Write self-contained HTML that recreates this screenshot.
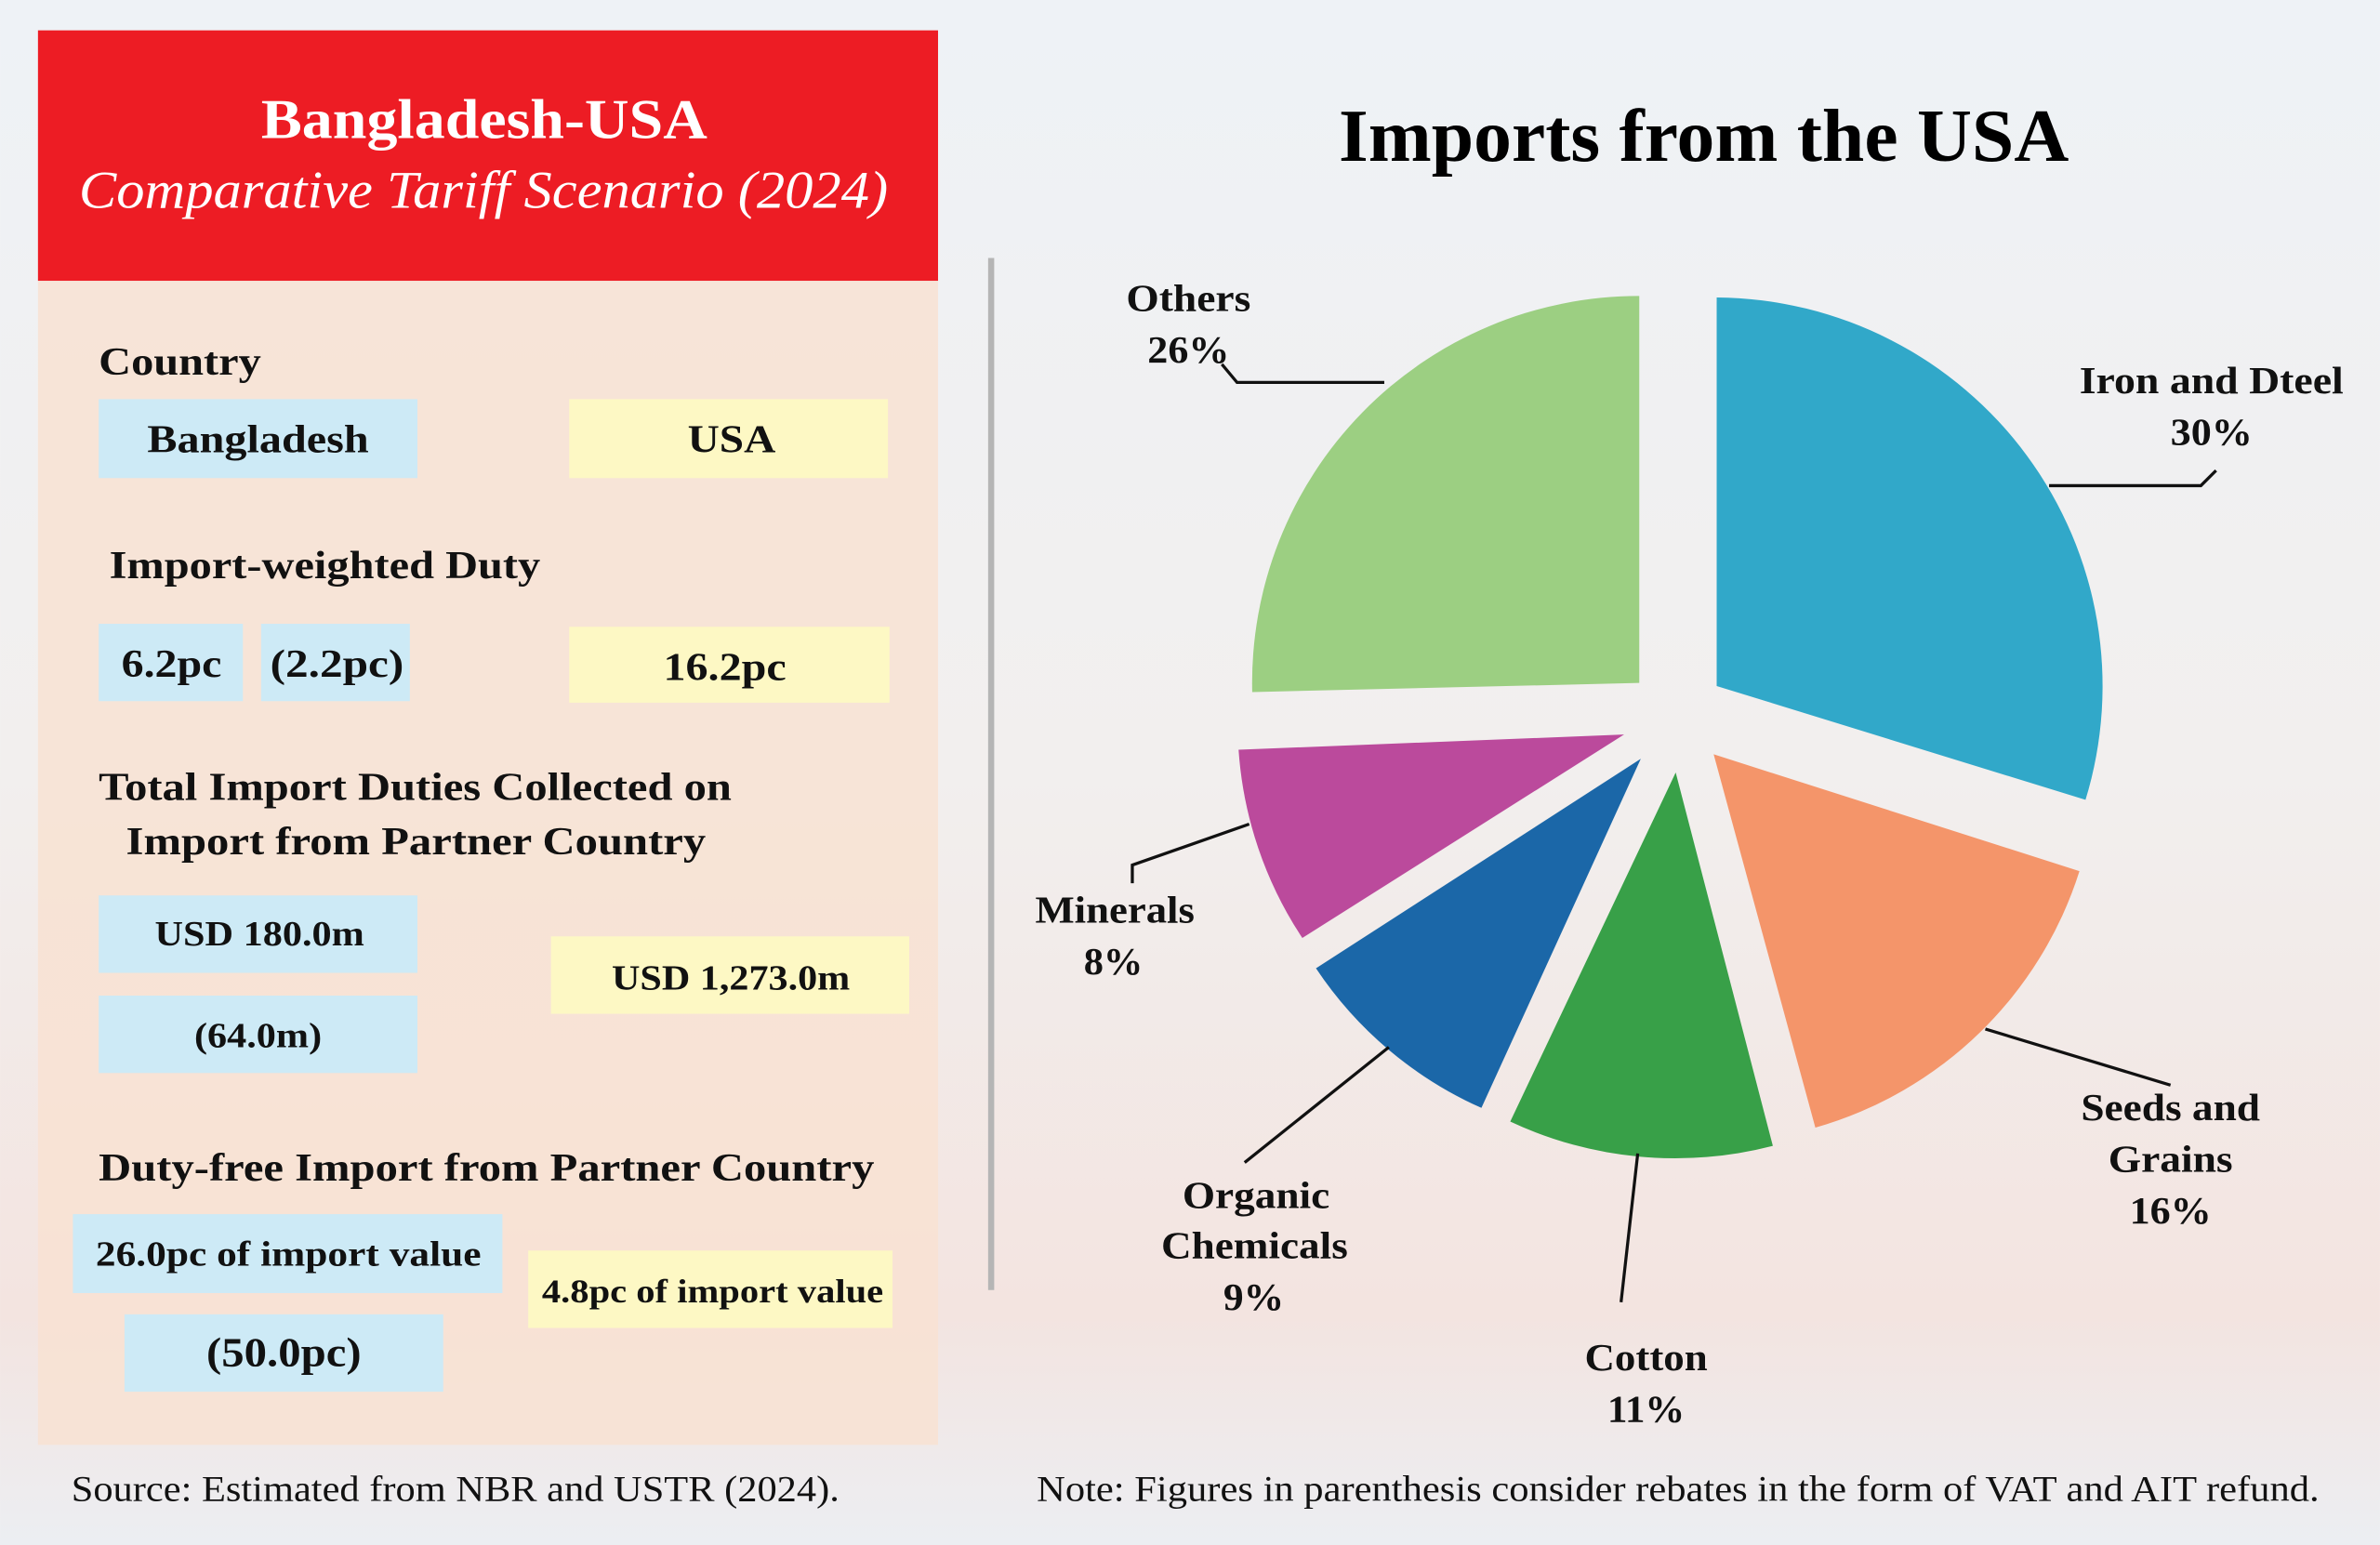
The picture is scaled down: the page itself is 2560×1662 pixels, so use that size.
<!DOCTYPE html>
<html><head><meta charset="utf-8"><style>html,body{margin:0;padding:0;}svg{display:block}</style></head>
<body>
<svg xmlns="http://www.w3.org/2000/svg" width="2560" height="1662" viewBox="0 0 1568 1018" font-family="'Liberation Serif', serif">
<defs>
<linearGradient id="bg" x1="0" y1="0" x2="0" y2="1">
<stop offset="0" stop-color="#eef2f6"/><stop offset="0.5" stop-color="#f2efee"/><stop offset="0.85" stop-color="#f3e4e0"/><stop offset="1" stop-color="#eceef2"/>
</linearGradient>
</defs>
<rect width="1568" height="1018" fill="url(#bg)"/>
<rect x="25" y="185" width="593" height="767" fill="#f8e2d2" opacity="0.85"/>
<rect x="25" y="20" width="593" height="165" fill="#ed1c24"/>
<text x="172" y="91" font-size="37" font-weight="bold" fill="#fff" textLength="294" lengthAdjust="spacingAndGlyphs">Bangladesh-USA</text>
<text x="52" y="137" font-size="35" font-style="italic" fill="#fff" textLength="533" lengthAdjust="spacingAndGlyphs">Comparative Tariff Scenario (2024)</text>
<line x1="653" y1="170" x2="653" y2="850" stroke="#b5b5b5" stroke-width="4"/>
<g font-weight="bold" fill="#111" lengthAdjust="spacingAndGlyphs">
<text x="65" y="247" font-size="26" textLength="107" lengthAdjust="spacingAndGlyphs">Country</text>
<rect x="65" y="263" width="210" height="52" fill="#cdeaf6"/><text x="97" y="298" font-size="26" textLength="146" lengthAdjust="spacingAndGlyphs">Bangladesh</text>
<rect x="375" y="263" width="210" height="52" fill="#fdf8c4"/><text x="453" y="298" font-size="26" textLength="58" lengthAdjust="spacingAndGlyphs">USA</text>
<text x="72" y="381" font-size="26" textLength="284" lengthAdjust="spacingAndGlyphs">Import-weighted Duty</text>
<rect x="65" y="411" width="95" height="51" fill="#cdeaf6"/><text x="80" y="446" font-size="26" textLength="66" lengthAdjust="spacingAndGlyphs">6.2pc</text>
<rect x="172" y="411" width="98" height="51" fill="#cdeaf6"/><text x="178" y="446" font-size="26" textLength="88" lengthAdjust="spacingAndGlyphs">(2.2pc)</text>
<rect x="375" y="413" width="211" height="50" fill="#fdf8c4"/><text x="437" y="448" font-size="26" textLength="81" lengthAdjust="spacingAndGlyphs">16.2pc</text>
<text x="65" y="527" font-size="26" textLength="417" lengthAdjust="spacingAndGlyphs">Total Import Duties Collected on</text>
<text x="83" y="563" font-size="26" textLength="382" lengthAdjust="spacingAndGlyphs">Import from Partner Country</text>
<rect x="65" y="590" width="210" height="51" fill="#cdeaf6"/><text x="102" y="623" font-size="23" textLength="138" lengthAdjust="spacingAndGlyphs">USD 180.0m</text>
<rect x="65" y="656" width="210" height="51" fill="#cdeaf6"/><text x="128" y="690" font-size="23" textLength="84" lengthAdjust="spacingAndGlyphs">(64.0m)</text>
<rect x="363" y="617" width="236" height="51" fill="#fdf8c4"/><text x="403" y="652" font-size="23" textLength="157" lengthAdjust="spacingAndGlyphs">USD 1,273.0m</text>
<text x="65" y="778" font-size="26" textLength="511" lengthAdjust="spacingAndGlyphs">Duty-free Import from Partner Country</text>
<rect x="48" y="800" width="283" height="52" fill="#cdeaf6"/><text x="63" y="834" font-size="23" textLength="254" lengthAdjust="spacingAndGlyphs">26.0pc of import value</text>
<rect x="82" y="866" width="210" height="51" fill="#cdeaf6"/><text x="136" y="900" font-size="27" textLength="102" lengthAdjust="spacingAndGlyphs">(50.0pc)</text>
<rect x="348" y="824" width="240" height="51" fill="#fdf8c4"/><text x="357" y="858" font-size="22" textLength="225" lengthAdjust="spacingAndGlyphs">4.8pc of import value</text>
</g>
<text x="47" y="989" font-size="24" fill="#111" textLength="506" lengthAdjust="spacingAndGlyphs">Source: Estimated from NBR and USTR (2024).</text>
<text x="683" y="989" font-size="24" fill="#111" textLength="845" lengthAdjust="spacingAndGlyphs">Note: Figures in parenthesis consider rebates in the form of VAT and AIT refund.</text>
<text x="882" y="106" font-size="49" font-weight="bold" fill="#000" textLength="481" lengthAdjust="spacingAndGlyphs">Imports from the USA</text>
<path d="M1131,452 L1131,196 A256,256 0 0 1 1374,527 Z" fill="#31a8c9"/>
<path d="M1129,497 L1370,574 A256,256 0 0 1 1196,743 Z" fill="#f4956a"/>
<path d="M1104,509 L1168,755 A256,256 0 0 1 995,739 Z" fill="#38a048"/>
<path d="M1081,500 L976,730 A256,256 0 0 1 867,638 Z" fill="#1b67a8"/>
<path d="M1070,484 L858,618 A256,256 0 0 1 816,494 Z" fill="#bb4a9c"/>
<path d="M1080,450 L825,456 A255,255 0 0 1 1080,195 Z" fill="#9ccf82"/>
<g stroke="#111" stroke-width="2" fill="none">
<polyline points="805,240 815,252 912,252"/>
<polyline points="1460,310 1450,320 1350,320"/>
<polyline points="1308,678 1430,715"/>
<polyline points="1079,760 1068,858"/>
<polyline points="915,690 820,766"/>
<polyline points="823,543 746,570 746,582"/>
</g>
<g font-weight="bold" font-size="25" fill="#111">
<text x="742" y="205" textLength="82" lengthAdjust="spacingAndGlyphs">Others</text><text x="756" y="239" textLength="54" lengthAdjust="spacingAndGlyphs">26%</text>
<text x="1370" y="259" textLength="174" lengthAdjust="spacingAndGlyphs">Iron and Dteel</text><text x="1430" y="293" textLength="54" lengthAdjust="spacingAndGlyphs">30%</text>
<text x="1371" y="738" textLength="118" lengthAdjust="spacingAndGlyphs">Seeds and</text><text x="1389" y="772" textLength="82" lengthAdjust="spacingAndGlyphs">Grains</text><text x="1403" y="806" textLength="54" lengthAdjust="spacingAndGlyphs">16%</text>
<text x="1044" y="903" textLength="81" lengthAdjust="spacingAndGlyphs">Cotton</text><text x="1059" y="937" textLength="51" lengthAdjust="spacingAndGlyphs">11%</text>
<text x="779" y="796" textLength="97" lengthAdjust="spacingAndGlyphs">Organic</text><text x="765" y="829" textLength="123" lengthAdjust="spacingAndGlyphs">Chemicals</text><text x="806" y="863" textLength="40" lengthAdjust="spacingAndGlyphs">9%</text>
<text x="682" y="608" textLength="105" lengthAdjust="spacingAndGlyphs">Minerals</text><text x="714" y="642" textLength="39" lengthAdjust="spacingAndGlyphs">8%</text>
</g>
</svg>
</body></html>
